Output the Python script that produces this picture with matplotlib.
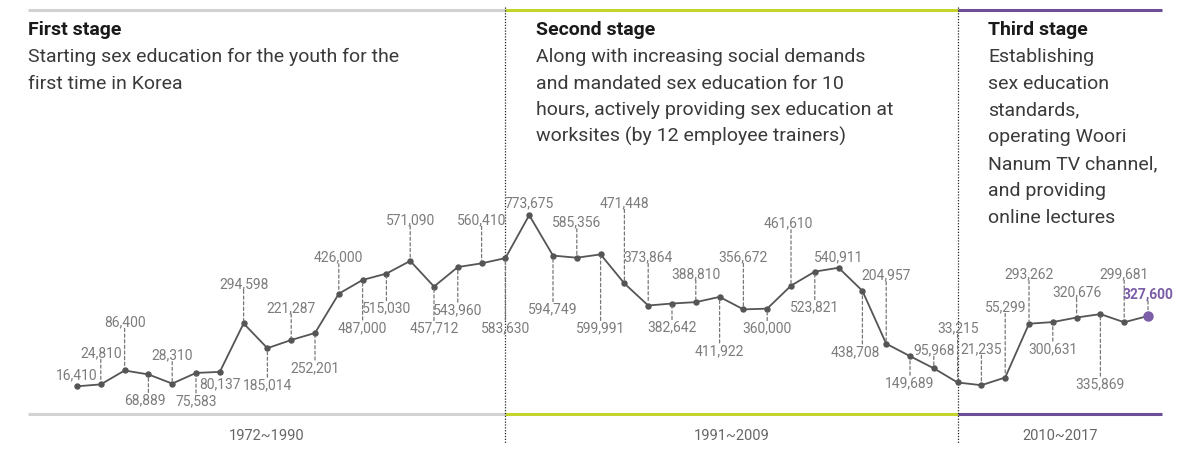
import matplotlib.pyplot as plt
import matplotlib.transforms as mtrans

# trainees per year
years = list(range(1972, 2018))
trainees = [16410, 24810, 86400, 68889, 28310, 75583, 80137, 294598, 185014,
            221287, 252201, 426000, 487000, 515030, 571090, 457712, 543960,
            560410, 583630,
            773675, 594749, 585356, 599991, 471448, 373864, 382642, 388810,
            411922, 356672, 360000, 461610, 523821, 540911, 438708, 204957,
            149689, 95968, 33215,
            21235, 55299, 293262, 300631, 320676, 335869, 299681, 327600]

stage_titles = ["First stage", "Second stage", "Third stage"]
stage_texts = [
    ["Starting sex education for the youth for the",
     "first time in Korea"],
    ["Along with increasing social demands",
     "and mandated sex education for 10",
     "hours, actively providing sex education at",
     "worksites (by 12 employee trainers)"],
    ["Establishing", "sex education", "standards,", "operating Woori",
     "Nanum TV channel,", "and providing", "online lectures"],
]
periods = ["1972~1990", "1991~2009", "2010~2017"]
stage_ends = [1990, 2009]

# label offsets in pixels (up = positive) relative to each point
label_dy = [12, 32, 49, -25, 29, -27, -11, 40, -36, 33, -34, 37, -47, -34, 42,
            -41, -42, 44, -69, 13, -53, 36, -73, 81, 49, -23, 29, -53, 53, -19,
            63, -35, 11, -60, 69, -26, 19, 55, 37, 71, 50, -26, 26, -69, 49, 22]
label_dx = {3: -4, 30: -3, 33: -7}

W, H = 1178, 449
FONT = "Roboto"
GRAY_RULE = "#d2d2d2"
GREEN = "#c3d52c"
PURPLE = "#6d4e97"
LABEL_C = "#7c7c7c"

fig = plt.figure(figsize=(W / 100, H / 100), dpi=100)
ax = fig.add_axes([0, 0, 1, 1])
ax.axis("off")

# 1972 sits at x=77px, 23.8px per year; zero sits at y=390px, 0.000226 px per trainee
ax.set_xlim(1972 - 77 / 23.8, 1972 + (W - 77) / 23.8)
ax.set_ylim(-(H - 390) / 0.000226, 390 / 0.000226)


def fy(py):
    return 1 - py / H


def px_year(px):
    return 1972 + (px - 77) / 23.8


trans = mtrans.blended_transform_factory(ax.transData, ax.transAxes)

# top / bottom coloured rules
bounds = [px_year(28)] + stage_ends + [px_year(1162)]
rule_colors = [GRAY_RULE, GREEN, PURPLE]
for i in range(3):
    for yy in (9.5, 414):
        ax.plot([bounds[i], bounds[i + 1]], [fy(yy), fy(yy)], transform=trans,
                color=rule_colors[i], lw=2.2, solid_capstyle="butt")

# dotted dividers
for yr in stage_ends:
    ax.plot([yr, yr], [fy(7), fy(444)], transform=trans, color="#222222",
            lw=0.9, ls=(0, (1, 1.3)))

# stage headings
text_x = [px_year(28), px_year(536), px_year(988)]
for i in range(3):
    ax.text(text_x[i], fy(35), stage_titles[i], transform=trans, family=FONT,
            fontsize=14, fontweight="bold", color="#1a1a1a", va="baseline")
    for j, line in enumerate(stage_texts[i]):
        ax.text(text_x[i], fy(35 + 26.8 * (j + 1)), line, transform=trans,
                family=FONT, fontsize=14, color="#3a3a3a", va="baseline")

# period labels
for i in range(3):
    ax.text((bounds[i] + bounds[i + 1]) / 2, fy(436), periods[i],
            transform=trans, family=FONT, fontsize=10.5, color="#666666",
            ha="center", va="center")

# main line
ax.plot(years, trainees, color="#555555", lw=1.3, marker="o", ms=3.6,
        markevery=list(range(len(years) - 1)), zorder=3)
ax.plot(years[-1], trainees[-1], "o", color="#7b5ea7", ms=6.5, zorder=4)

# value labels with dashed leaders
for i, (yr, v) in enumerate(zip(years, trainees)):
    dy = label_dy[i]
    dx = label_dx.get(i, 0)
    last = i == len(years) - 1
    ax.annotate(f"{v:,}", xy=(yr, v), xytext=(dx, dy - 5),
                textcoords="offset pixels", ha="center", va="baseline",
                family=FONT, fontsize=10,
                fontweight="bold" if last else "normal",
                color="#7b5ea7" if last else LABEL_C)
    if abs(dy) > 16:
        sign = 1 if dy > 0 else -1
        ax.annotate("", xy=(yr, v), xytext=(0, dy - sign * 7),
                    textcoords="offset pixels",
                    arrowprops=dict(arrowstyle="-", color="#777777", lw=0.9,
                                    linestyle=(0, (2.5, 2)),
                                    shrinkA=0, shrinkB=2))

fig.savefig("out.png", dpi=100)
